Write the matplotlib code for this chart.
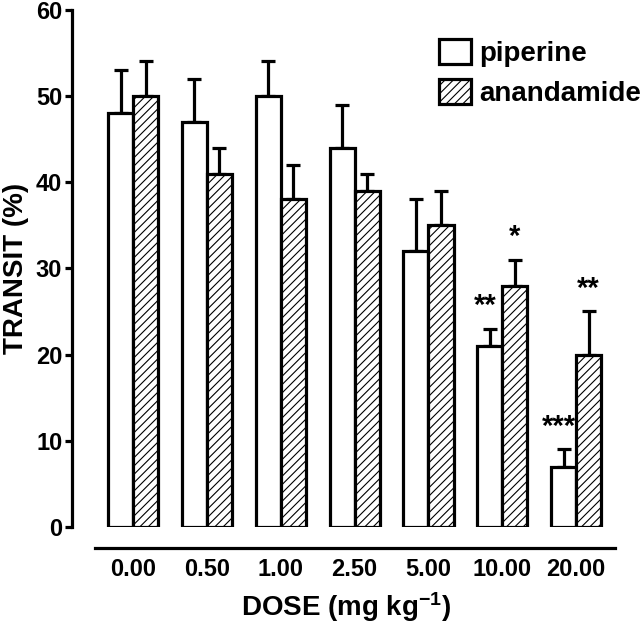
import numpy as np
import matplotlib
matplotlib.use("Agg")
import matplotlib.pyplot as plt

# data
doses = ["0.00", "0.50", "1.00", "2.50", "5.00", "10.00", "20.00"]
piperine = [48, 47, 50, 44, 32, 21, 7]
piperine_err = [5, 5, 4, 5, 6, 2, 2]
anandamide = [50, 41, 38, 39, 35, 28, 20]
anandamide_err = [4, 3, 4, 2, 4, 3, 5]
piperine_sig = ["", "", "", "", "", "**", "***"]
anandamide_sig = ["", "", "", "", "", "*", "**"]

plt.rcParams["font.family"] = ["Liberation Sans", "DejaVu Sans"]
plt.rcParams["mathtext.fontset"] = "custom"
plt.rcParams["mathtext.rm"] = "Liberation Sans"
plt.rcParams["mathtext.bf"] = "Liberation Sans:bold"
plt.rcParams["hatch.linewidth"] = 0.8

LW = 2.3
fig = plt.figure(figsize=(6.4, 6.27), dpi=100)
ax = fig.add_axes([0.1125, 0.1595, 0.857, 0.825])

x = np.arange(len(doses))
w = 0.34

ax.bar(x - w / 2, piperine, w, color="white", edgecolor="black", linewidth=LW,
       label="piperine", zorder=2)
ax.bar(x + w / 2, anandamide, w, color="white", edgecolor="black", linewidth=LW,
       hatch="////", label="anandamide", zorder=2)

zeros = np.zeros(len(doses))
ax.errorbar(x - w / 2, piperine, yerr=[zeros, piperine_err], fmt="none",
            ecolor="black", elinewidth=LW, capsize=4.7, capthick=LW, zorder=1)
ax.errorbar(x + w / 2, anandamide, yerr=[zeros, anandamide_err], fmt="none",
            ecolor="black", elinewidth=LW, capsize=4.7, capthick=LW, zorder=1)

# significance stars
for i in range(len(doses)):
    if piperine_sig[i]:
        ax.text(x[i] - w / 2 - 0.06, piperine[i] + piperine_err[i] + 1.0,
                piperine_sig[i], ha="center", va="bottom", fontsize=21,
                fontweight="bold")
    if anandamide_sig[i]:
        ax.text(x[i] + w / 2, anandamide[i] + anandamide_err[i] + 1.0,
                anandamide_sig[i], ha="center", va="bottom", fontsize=21,
                fontweight="bold")

ax.set_xlim(-0.827, 6.6)
ax.set_ylim(0, 60)
ax.set_yticks(np.arange(0, 61, 10))
ax.set_xticks(x)
ax.set_xticklabels(doses)

for s in ["top", "right"]:
    ax.spines[s].set_visible(False)
ax.spines["left"].set_linewidth(LW)
ax.spines["bottom"].set_linewidth(LW)
ax.spines["bottom"].set_position(("outward", 15))
ax.spines["bottom"].set_bounds(-0.51, 6.53)

ax.tick_params(axis="y", length=5, width=LW, labelsize=17, pad=2)
ax.tick_params(axis="x", length=0, labelsize=17, pad=7)
for lab in ax.get_xticklabels() + ax.get_yticklabels():
    lab.set_fontweight("bold")

ax.set_ylabel("TRANSIT (%)", fontsize=20, fontweight="bold", labelpad=5)
ax.set_xlabel("DOSE (mg kg$\\mathbf{^{-1}}$)", fontsize=20, fontweight="bold",
              labelpad=7)

leg = ax.legend(loc="upper right", bbox_to_anchor=(1.058, 0.965), frameon=False,
                fontsize=20, handlelength=1.15, handleheight=1.0,
                handletextpad=0.3, labelspacing=0.45, borderaxespad=0)
for t in leg.get_texts():
    t.set_fontweight("bold")

fig.savefig("out.png", dpi=100)
